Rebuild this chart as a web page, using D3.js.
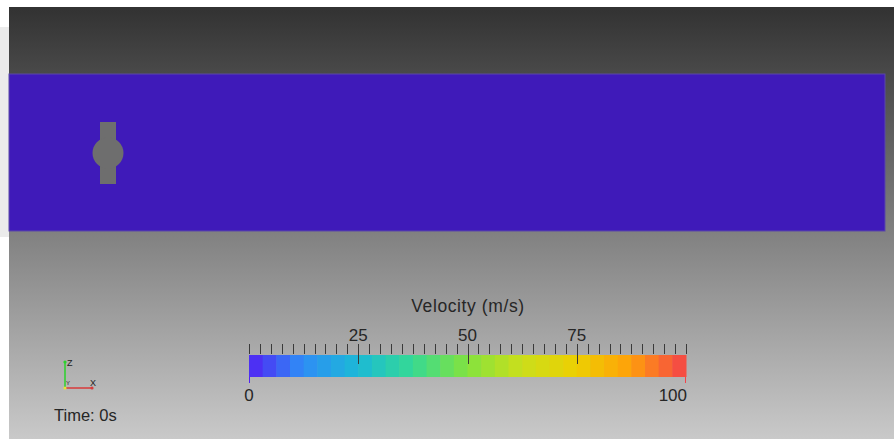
<!DOCTYPE html>
<html><head><meta charset="utf-8">
<script src="https://cdn.jsdelivr.net/npm/d3@7"></script>
<style>body{margin:0;background:#fff;overflow:hidden}svg{display:block}text{font-family:"Liberation Sans",Arial,sans-serif}</style>
</head><body><svg id="c" width="894" height="439"></svg>
<script>
// ---- data ----
const colorDomain = [0, 100];
const colorStopValues = [0, 12, 25, 37, 50, 62, 75, 87, 100];
const colorStopColors = ["#5222f2", "#2f8cf6", "#1cb9d6", "#34d996", "#84e23e", "#c9df1c", "#edcf02", "#ffa10a", "#f4434a"];
const bandCount = 32;
const majorTicks = [25, 50, 75];
const minorTickStep = 2.5;
const endLabels = ["0", "100"];
const colorTitle = "Velocity (m/s)";
const timeLabel = "Time: 0s";
const fieldValue = 0; // velocity of the flow field shown

const svg = d3.select("#c");
const defs = svg.append("defs");
const bg = defs.append("linearGradient").attr("id","bg").attr("x1",0).attr("y1",0).attr("x2",0).attr("y2",1);
bg.append("stop").attr("offset","0%").attr("stop-color","#323232");
bg.append("stop").attr("offset","100%").attr("stop-color","#c9c9c9");

// page margins
svg.append("rect").attr("x",0).attr("y",27).attr("width",9).attr("height",210).attr("fill","#ebebeb");
svg.append("rect").attr("x",9).attr("y",7).attr("width",885).attr("height",432).attr("fill","url(#bg)");

const color = d3.scaleLinear().domain(colorStopValues).range(colorStopColors).interpolate(d3.interpolateRgb);

// flow domain
const fieldCol = d3.color(color(fieldValue)).darker(0.75);
svg.append("rect").attr("x",9).attr("y",74).attr("width",876).attr("height",157)
  .attr("fill",fieldCol).attr("stroke","#5a48a8").attr("stroke-width",1);
// obstacle
const obs = svg.append("g").attr("fill","#6e6e6e");
obs.append("rect").attr("x",100).attr("y",122).attr("width",16).attr("height",62);
obs.append("circle").attr("cx",108).attr("cy",153).attr("r",15.5);

// color bar
const x = d3.scaleLinear().domain(colorDomain).range([249, 686]);
const barY = 355, barH = 22;
const bandW = (colorDomain[1]-colorDomain[0]) / bandCount;
const bands = d3.range(bandCount).map(i => colorDomain[0] + i*bandW);
svg.append("g").selectAll("rect").data(bands).join("rect")
  .attr("x", d => x(d)).attr("y", barY).attr("width", d => x(d+bandW)-x(d)+0.5).attr("height", barH)
  .attr("fill", d => color(d + bandW/2));

const minor = d3.range(colorDomain[0], colorDomain[1] + 0.001, minorTickStep);
svg.append("g").attr("stroke","#3a3a3a").attr("stroke-width",1).selectAll("line").data(minor).join("line")
  .attr("x1", d => Math.round(x(d))+0.5).attr("x2", d => Math.round(x(d))+0.5)
  .attr("y1", 344).attr("y2", d => majorTicks.includes(d) ? 364 : 354);

const txtCol = "#262626";
svg.append("g").selectAll("text").data(majorTicks).join("text")
  .attr("x", d => x(d)).attr("y", 341).attr("text-anchor","middle")
  .attr("font-size",17).attr("fill",txtCol).text(d => d);

svg.append("text").attr("x", 468).attr("y", 312).attr("text-anchor","middle")
  .attr("font-size",17.5).attr("letter-spacing",0.6).attr("fill",txtCol).text(colorTitle);

// end marks
svg.append("line").attr("x1",x(0)+0.5).attr("x2",x(0)+0.5).attr("y1",377).attr("y2",383).attr("stroke",color(0));
svg.append("line").attr("x1",x(100)-0.5).attr("x2",x(100)-0.5).attr("y1",377).attr("y2",383).attr("stroke",color(100));
svg.append("text").attr("x",x(0)).attr("y",401).attr("text-anchor","middle").attr("font-size",17).attr("fill",txtCol).text(endLabels[0]);
svg.append("text").attr("x",x(100)+1).attr("y",401).attr("text-anchor","end").attr("font-size",17).attr("fill",txtCol).text(endLabels[1]);

// axes triad
const tri = svg.append("g");
tri.append("line").attr("x1",65).attr("y1",388).attr("x2",65).attr("y2",362).attr("stroke","#2bd22b").attr("stroke-width",1.5);
tri.append("line").attr("x1",65).attr("y1",388).attr("x2",92).attr("y2",388).attr("stroke","#d83a3a").attr("stroke-width",1.5);
tri.append("circle").attr("cx",65).attr("cy",362).attr("r",1.6).attr("fill","#2bd22b");
tri.append("circle").attr("cx",92).attr("cy",388).attr("r",1.6).attr("fill","#d83a3a");
tri.append("circle").attr("cx",65).attr("cy",388).attr("r",1.6).attr("fill","#e8e23a");
tri.append("text").attr("x",67).attr("y",366).attr("font-size",9).attr("fill","#222").text("Z");
tri.append("text").attr("x",90).attr("y",386).attr("font-size",9).attr("fill","#222").text("X");
tri.append("text").attr("x",66).attr("y",385).attr("font-size",6).attr("fill","#222").text("Y");

svg.append("text").attr("x",54).attr("y",421).attr("font-size",16.5).attr("fill",txtCol).text(timeLabel);
</script></body></html>
